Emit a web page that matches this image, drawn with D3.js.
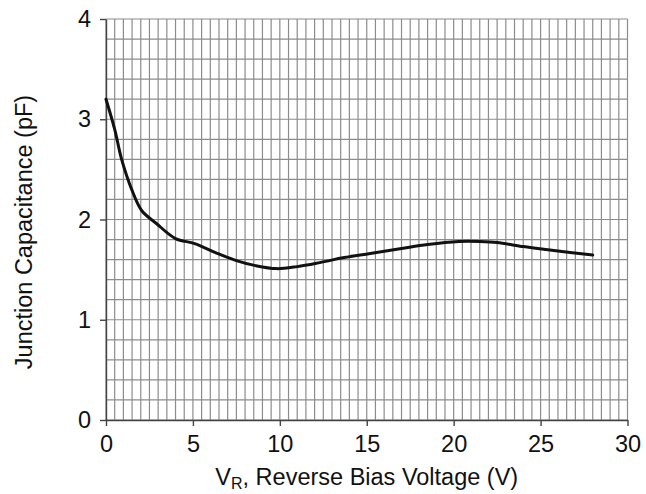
<!DOCTYPE html>
<html>
<head>
<meta charset="utf-8">
<script src="https://cdn.jsdelivr.net/npm/d3@7"></script>
<style>
  html, body { margin: 0; padding: 0; background: #fff; }
  svg { display: block; }
  text { font-family: "Liberation Sans", Arial, sans-serif; fill: #111; }
</style>
</head>
<body>
<div id="chart"></div>
<script>
// Curve
const voltage = [0, 0.5, 0.9, 1.5, 2.05, 2.9, 4.0, 5.1, 6.3, 7.5, 8.6, 9.8, 11, 12.3, 13.7, 15.2, 17, 18.5, 20.3, 21.5, 22.5, 24, 25.3, 26.7, 28];
const capacitance = [3.2, 2.9, 2.6, 2.29, 2.09, 1.96, 1.81, 1.76, 1.67, 1.59, 1.54, 1.51, 1.53, 1.57, 1.62, 1.66, 1.71, 1.75, 1.78, 1.78, 1.77, 1.73, 1.70, 1.67, 1.645];

const xTicks = [0, 5, 10, 15, 20, 25, 30];
const yTicks = [0, 1, 2, 3, 4];

const W = 646, H = 494;
const margin = { left: 106, right: 18.5, top: 19, bottom: 74 };
const FONT = 23.5;

const svg = d3.select("#chart").append("svg")
  .attr("width", W)
  .attr("height", H);

const x = d3.scaleLinear().domain([0, 30]).range([margin.left, W - margin.right]);
const y = d3.scaleLinear().domain([0, 4]).range([H - margin.bottom, margin.top]);

// grid: 0.5 V and 0.2 pF
const gGrid = svg.append("g");
gGrid.selectAll("line.vx")
  .data(d3.range(0, 30.01, 0.5))
  .join("line")
  .attr("x1", d => x(d)).attr("x2", d => x(d))
  .attr("y1", y(0)).attr("y2", y(4))
  .attr("stroke", "#8c8c8c")
  .attr("stroke-width", 1.2);

gGrid.selectAll("line.hy")
  .data(d3.range(0, 4.01, 0.2))
  .join("line")
  .attr("x1", x(0)).attr("x2", x(30))
  .attr("y1", d => y(d)).attr("y2", d => y(d))
  .attr("stroke", "#8c8c8c")
  .attr("stroke-width", 1.2);

// axes
const xAxis = svg.append("g")
  .attr("transform", `translate(0,${y(0)})`)
  .call(d3.axisBottom(x).tickValues(xTicks).tickFormat(d3.format("d"))
    .tickSize(6).tickSizeOuter(0).tickPadding(9));
const yAxis = svg.append("g")
  .attr("transform", `translate(${x(0)},0)`)
  .call(d3.axisLeft(y).tickValues(yTicks).tickFormat(d3.format("d"))
    .tickSize(6).tickSizeOuter(0).tickPadding(9));

[xAxis, yAxis].forEach(a => {
  a.attr("font-size", FONT).attr("font-family", "Liberation Sans, Arial, sans-serif");
  a.select(".domain").attr("stroke", "#444").attr("stroke-width", 1.4);
  a.selectAll(".tick line").attr("stroke", "#444").attr("stroke-width", 1.4);
  a.selectAll(".tick text").attr("fill", "#111");
});

// curve
const line = d3.line()
  .x((d, i) => x(voltage[i]))
  .y(d => y(d))
  .curve(d3.curveCatmullRom);

svg.append("path")
  .datum(capacitance)
  .attr("d", line)
  .attr("fill", "none")
  .attr("stroke", "#111")
  .attr("stroke-width", 3)
  .attr("stroke-linejoin", "round")
  .attr("stroke-linecap", "round");

// axis titles
const xTitle = svg.append("text")
  .attr("x", (x(0) + x(30)) / 2)
  .attr("y", 485)
  .attr("text-anchor", "middle")
  .attr("font-size", FONT);
xTitle.append("tspan").text("V");
xTitle.append("tspan").attr("font-size", 16).attr("dy", 4).text("R");
xTitle.append("tspan").attr("dy", -4).text(", Reverse Bias Voltage (V)");

svg.append("text")
  .attr("transform", "translate(32,232) rotate(-90)")
  .attr("text-anchor", "middle")
  .attr("font-size", FONT)
  .text("Junction Capacitance (pF)");
</script>
</body>
</html>
